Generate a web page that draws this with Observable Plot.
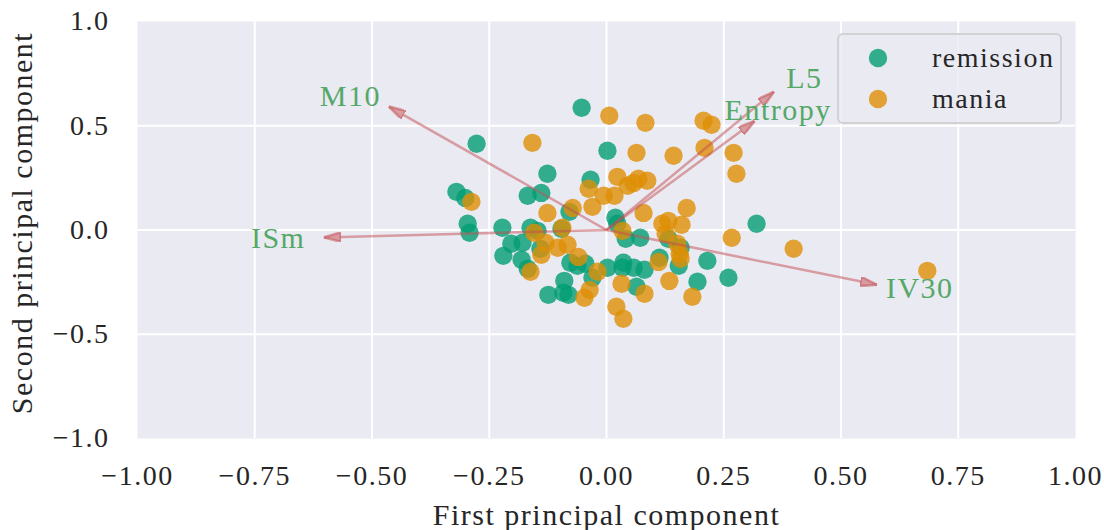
<!DOCTYPE html>
<html>
<head>
<meta charset="utf-8">
<script src="https://cdn.jsdelivr.net/npm/d3@7"></script>
<script src="https://cdn.jsdelivr.net/npm/@observablehq/plot@0.6"></script>
<style>
  body { margin: 0; background: #fff; }
  #chart { position: relative; width: 1104px; height: 530px; }
  #chart svg text { letter-spacing: 1.5px; }
  #legend {
    position: absolute; left: 837px; top: 33px; width: 225px; height: 91px;
    box-sizing: border-box; border: 2px solid rgba(204, 204, 204, 0.8);
    border-radius: 6px; background: rgba(234, 234, 242, 0.8);
  }
  #legend text { font-family: "Liberation Serif", serif; font-size: 28px; letter-spacing: 1.5px; fill: #262626; }
</style>
</head>
<body>
<div id="chart"><div id="legend"></div></div>
<script>
// Scores of each recording on the first two principal components
const remissionPC1 = [-0.053, -0.277, 0.002, -0.126, -0.034, -0.320, -0.301, -0.168, -0.139, -0.079,
  -0.296, -0.292, -0.222, -0.203, -0.220, -0.181, -0.168, -0.179, -0.162, -0.147,
  -0.141, -0.096, -0.077, -0.062, -0.045, -0.030, -0.090, -0.124, -0.081, -0.092,
  0.002, 0.019, 0.023, 0.041, 0.072, 0.132, 0.158, 0.154, 0.113, 0.215,
  0.320, 0.260, 0.194, 0.036, 0.034, 0.058, 0.081, 0.064];
const remissionPC2 = [0.586, 0.414, 0.380, 0.270, 0.241, 0.183, 0.154, 0.164, 0.178, 0.087,
  0.030, -0.013, 0.011, -0.066, -0.124, -0.143, -0.186, -0.061, 0.011, -0.004,
  -0.090, 0.006, -0.157, -0.172, -0.162, -0.229, -0.244, -0.311, -0.311, -0.301,
  -0.181, 0.059, 0.030, -0.042, -0.037, -0.042, -0.085, -0.172, -0.133, -0.148,
  0.030, -0.229, -0.248, -0.157, -0.181, -0.181, -0.191, -0.272];
const maniaPC1 = [0.006, -0.158, 0.083, 0.207, 0.224, 0.064, 0.143, 0.209, 0.271, 0.277,
  0.023, 0.068, 0.087, 0.045, -0.038, -0.006, 0.017, -0.288, -0.126, -0.072,
  -0.030, -0.154, -0.094, -0.130, -0.104, -0.139, -0.083, -0.060, -0.019, -0.162,
  -0.036, -0.047, 0.034, 0.079, 0.171, 0.119, 0.132, 0.160, 0.126, 0.151,
  0.156, 0.158, 0.111, 0.267, 0.134, 0.183, 0.032, 0.081, 0.021, 0.036,
  0.399, 0.684, 0.058];
const maniaPC2 = [0.548, 0.418, 0.514, 0.524, 0.505, 0.370, 0.356, 0.394, 0.370, 0.270,
  0.255, 0.246, 0.236, 0.212, 0.198, 0.164, 0.164, 0.135, 0.082, 0.106,
  0.111, -0.013, 0.011, -0.061, -0.085, -0.119, -0.071, -0.129, -0.200, -0.200,
  -0.287, -0.325, -0.004, 0.082, 0.106, 0.030, 0.044, 0.025, -0.018, -0.066,
  -0.114, -0.138, -0.153, -0.037, -0.244, -0.320, -0.258, -0.306, -0.368, -0.426,
  -0.090, -0.196, 0.226];

// Feature loadings (arrow tips) and where their names sit
const features = ["M10", "ISm", "IV30", "L5", "Entropy"];
const loadingPC1 = [-0.464, -0.603, 0.577, 0.357, 0.316];
const loadingPC2 = [0.592, -0.036, -0.263, 0.663, 0.523];
const labelPC1 = [-0.546, -0.700, 0.668, 0.422, 0.366];
const labelPC2 = [0.642, -0.042, -0.282, 0.728, 0.575];

const groups = ["remission", "mania"];
const groupColors = ["#029E73", "#DE8F05"];
const xTicks = [-1, -0.75, -0.5, -0.25, 0, 0.25, 0.5, 0.75, 1];
const yTicks = [-1, -0.5, 0, 0.5, 1];

const points = [
  ...remissionPC1.map((x, i) => ({group: groups[0], x, y: remissionPC2[i]})),
  ...maniaPC1.map((x, i) => ({group: groups[1], x, y: maniaPC2[i]}))
];
const loadings = features.map((name, i) => ({
  name, x: loadingPC1[i], y: loadingPC2[i], lx: labelPC1[i], ly: labelPC2[i]
}));

// Filled triangular arrow head
function headMarker(color, context) {
  const doc = (context && context.document) || document;
  const ns = "http://www.w3.org/2000/svg";
  const m = doc.createElementNS(ns, "marker");
  m.setAttribute("viewBox", "-17 -5 17 10");
  m.setAttribute("markerWidth", 17);
  m.setAttribute("markerHeight", 10);
  m.setAttribute("markerUnits", "userSpaceOnUse");
  m.setAttribute("orient", "auto");
  m.setAttribute("refX", 0);
  m.setAttribute("refY", 0);
  const p = doc.createElementNS(ns, "path");
  p.setAttribute("d", "M0,0L-17,-4.8L-17,4.8Z");
  p.setAttribute("fill", "#D79CA2");
  m.appendChild(p);
  return m;
}

function arrows(marker) {
  return Plot.link(loadings, {
    x1: () => 0, y1: () => 0, x2: "x", y2: "y",
    stroke: "#C44E52", strokeOpacity: 0.5, strokeWidth: 2.5,
    markerEnd: marker
  });
}
let arrowMark;
try { arrowMark = arrows(headMarker); } catch (e) { arrowMark = arrows("arrow"); }

const plot = Plot.plot({
  width: 1104,
  height: 530,
  marginLeft: 137,
  marginRight: 29,
  marginTop: 21,
  marginBottom: 92,
  x: {domain: [-1, 1], ticks: xTicks, tickFormat: d3.format(".2f"), tickSize: 0, tickPadding: 27, label: null},
  y: {domain: [-1, 1], ticks: yTicks, tickFormat: d3.format(".1f"), tickSize: 0, tickPadding: 28, label: null},
  color: {domain: groups, range: groupColors},
  style: {fontFamily: "'Liberation Serif', serif", fontSize: "28px", color: "#262626", background: "transparent"},
  marks: [
    Plot.frame({fill: "#EAEAF2", stroke: "none"}),
    Plot.ruleX(xTicks.filter(t => Math.abs(t) < 1), {stroke: "white", strokeWidth: 2}),
    Plot.ruleY(yTicks.filter(t => Math.abs(t) < 1), {stroke: "white", strokeWidth: 2}),
    Plot.dot(points, {x: "x", y: "y", r: 9.2, fill: "group", fillOpacity: 0.8, stroke: "none"}),
    arrowMark,
    Plot.text(loadings, {x: "lx", y: "ly", text: "name", fill: "#55A868", fontSize: 30}),
    Plot.text(["First principal component"], {
      text: d => d, frameAnchor: "bottom", textAnchor: "middle", lineAnchor: "middle",
      dy: 77, fontSize: 30, fill: "#262626"
    }),
    Plot.text(["Second principal component"], {
      text: d => d, frameAnchor: "left", textAnchor: "middle", lineAnchor: "middle",
      dx: -115, dy: -7, rotate: -90, fontSize: 30, fill: "#262626"
    })
  ]
});
document.getElementById("chart").prepend(plot);

// Legend box in the upper-right corner of the plot area
const legend = d3.select("#legend").append("svg")
  .attr("width", 221).attr("height", 87)
  .style("position", "absolute").style("left", 0).style("top", 0);
groups.forEach((g, i) => {
  const cy = 23 + i * 41;
  legend.append("circle").attr("cx", 39).attr("cy", cy).attr("r", 9.2)
    .attr("fill", groupColors[i]).attr("fill-opacity", 0.8);
  legend.append("text").attr("x", 93).attr("y", cy + 9).text(g);
});
</script>
</body>
</html>
